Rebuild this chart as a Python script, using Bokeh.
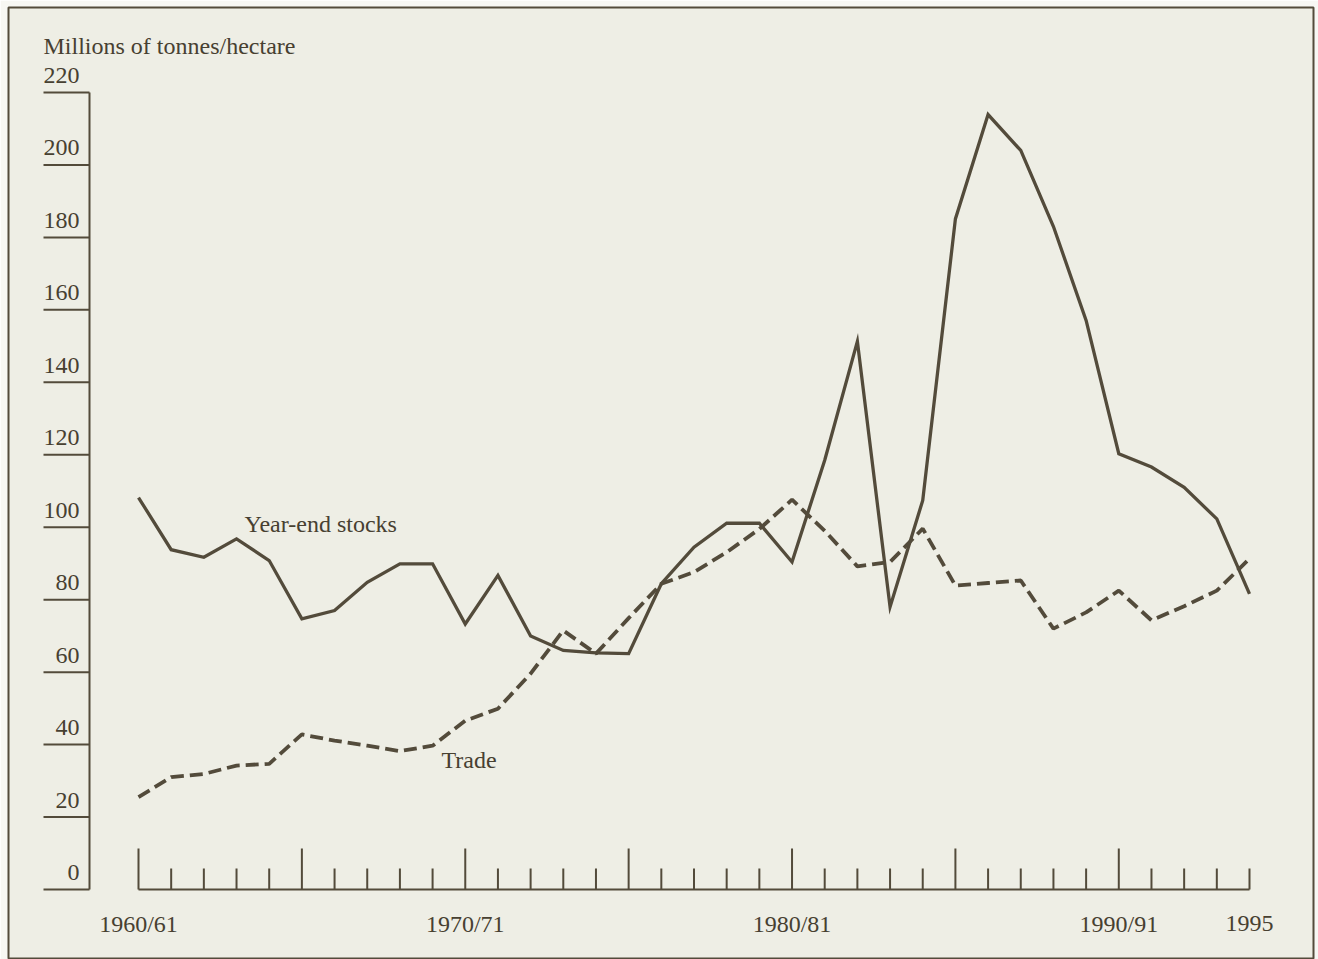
from bokeh.plotting import figure
from bokeh.models import Range1d
from bokeh.core.properties import value
from bokeh.embed import file_html
from bokeh.resources import INLINE

# ---------------- data ----------------
years = list(range(1960, 1995))
stocks = [108.2, 93.8, 91.7, 96.8, 90.8, 74.7, 77.0, 84.8, 89.9, 89.9,
          73.3, 86.7, 70.0, 66.0, 65.3, 65.1, 84.4, 94.5, 101.1, 101.1,
          90.4, 118.5, 151.3, 78.0, 107.4, 185.1, 213.9, 204.0, 183.0, 157.1,
          120.3, 116.6, 111.0, 102.3, 81.6]
trade = [25.5, 31.0, 31.9, 34.2, 34.7, 42.8, 41.1, 39.7, 38.2, 39.7,
         46.6, 49.9, 59.6, 71.5, 65.1, 74.9, 84.4, 87.6, 93.1, 99.5,
         107.6, 99.0, 89.2, 90.4, 99.6, 83.9, 84.6, 85.3, 72.0, 76.5,
         82.5, 74.3, 78.2, 82.5, 91.3]
y_ticks = [0, 20, 40, 60, 80, 100, 120, 140, 160, 180, 200, 220]
y_tick_labels = [str(v) for v in y_ticks]
x_label_years = [1960, 1970, 1980, 1990, 1994]
x_labels = ["1960/61", "1970/71", "1980/81", "1990/91", "1995"]
y_title = "Millions of tonnes/hectare"
series_names = ["Year-end stocks", "Trade"]

# ---------------- layout (pixel geometry) ----------------
W, H = 1318, 959
F_L, F_T, F_R, F_B = 8, 7, 1313, 958          # frame box
X_FIRST_PX, X_LAST_PX = 138, 1249              # first / last year
Y0_PX, YTOP_PX = 889, 92                       # value 0 / value 220
PPY = (X_LAST_PX - X_FIRST_PX) / (years[-1] - years[0])
PPU = (Y0_PX - YTOP_PX) / 220.0
SHIFT = 8  # svg baseline correction (px)


def xd(px):
    return years[0] + (px - X_FIRST_PX) / PPY


def yd(py):
    return (Y0_PX - py) / PPU


INK = "#534b3b"
TXT = "#474031"
FONT = value("Liberation Serif")
FS = "24px"

p = figure(width=W, height=H, output_backend="svg", toolbar_location=None,
           x_axis_type=None, y_axis_type=None,
           x_range=Range1d(xd(F_L), xd(F_R)), y_range=Range1d(yd(F_B), yd(F_T)),
           min_border_left=F_L, min_border_top=F_T,
           min_border_right=W - F_R, min_border_bottom=H - F_B)
p.grid.visible = False
p.background_fill_color = "#eeeee5"
p.border_fill_color = "#f7f7f3"
p.outline_line_color = INK
p.outline_line_width = 2

# y axis
p.segment(x0=[xd(89)], y0=[0], x1=[xd(89)], y1=[220], line_color=INK, line_width=2)
p.segment(x0=[xd(43)] * len(y_ticks), y0=y_ticks, x1=[xd(89)] * len(y_ticks), y1=y_ticks,
          line_color=INK, line_width=2)
p.text(x=[xd(79)] * len(y_ticks), y=y_ticks, text=y_tick_labels, text_align="right",
       text_baseline="alphabetic", y_offset=-9 - SHIFT, text_font=FONT, text_font_size=FS,
       text_color=TXT)
p.text(x=[xd(43)], y=[yd(53 - SHIFT)], text=[y_title], text_align="left",
       text_baseline="alphabetic", text_font=FONT, text_font_size=FS, text_color=TXT)

# x axis
tall = 41 / PPU
short = 21 / PPU
tick_tops = [tall if (y % 5 == 0 and y != years[-1]) else short for y in years]
p.segment(x0=[years[0]], y0=[0], x1=[years[-1]], y1=[0], line_color=INK, line_width=2)
p.segment(x0=years, y0=[0] * len(years), x1=years, y1=tick_tops, line_color=INK, line_width=2)
p.text(x=x_label_years, y=[0] * len(x_label_years), text=x_labels, text_align="center",
       text_baseline="alphabetic", y_offset=42 - SHIFT, text_font=FONT, text_font_size=FS,
       text_color=TXT)

# series
p.line(years, stocks, line_color=INK, line_width=3.3, line_join="miter")
p.line(years, trade, line_color=INK, line_width=3.8, line_dash="13 6")

p.text(x=[xd(244), xd(441)], y=[yd(531 - SHIFT), yd(767 - SHIFT)], text=series_names,
       text_align="left", text_baseline="alphabetic", text_font=FONT, text_font_size=FS,
       text_color=TXT)

open("out.html", "w").write(file_html(p, INLINE))
